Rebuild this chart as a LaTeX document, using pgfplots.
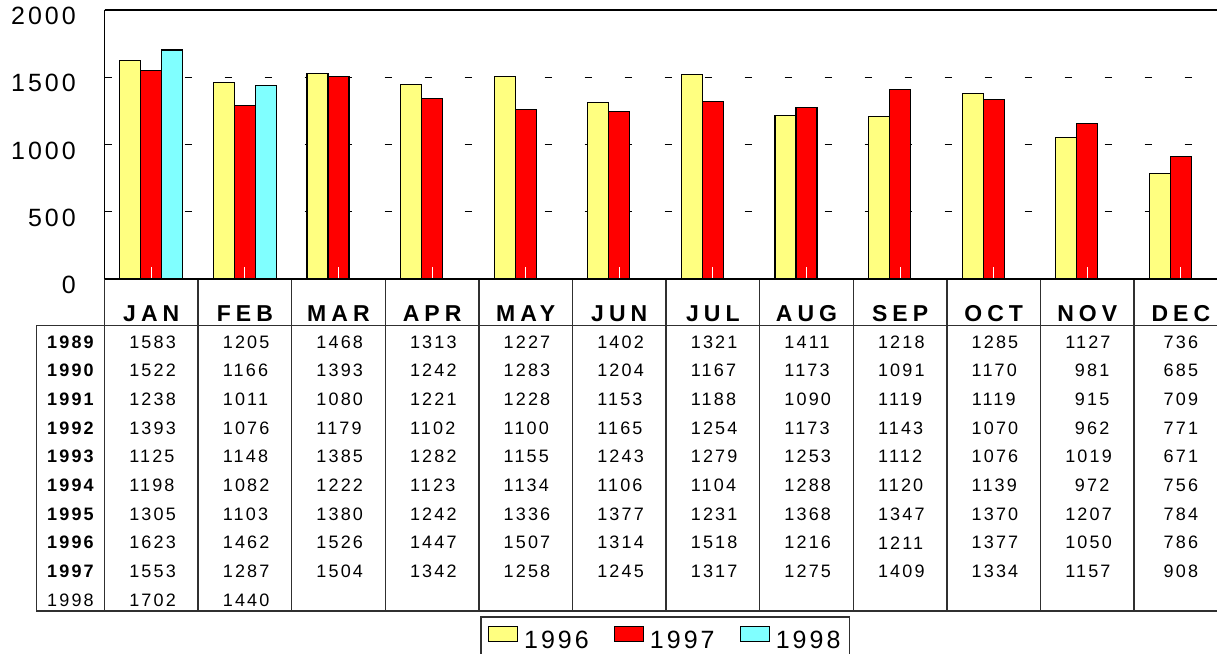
\documentclass[border=0pt]{standalone}
\usepackage{pgfplots}
\usepackage{pgfplotstable}
\pgfplotsset{compat=1.18}
\usepackage{fontspec}
\setmainfont{Liberation Sans}
\newfontfamily\lsfont[LetterSpace=12]{Liberation Sans}
\newfontfamily\mfont[LetterSpace=22]{Liberation Sans}
\definecolor{yel}{HTML}{FFFF80}
\definecolor{redb}{HTML}{FF0000}
\definecolor{cyanb}{HTML}{80FFFF}
\definecolor{tline}{HTML}{303030}
\pgfplotsset{
  layers/mylayers/.define layer set={
    axis background,axis grid,main,axis ticks,axis lines,axis tick labels,axis descriptions,axis foreground
  }{/pgfplots/layers/standard},
}
\pgfplotstableread{
year ypos JAN FEB MAR APR MAY JUN JUL AUG SEP OCT NOV DEC
1989 -468.4 1583 1205 1468 1313 1227 1402 1321 1411 1218 1285 1127 736
1990 -681.6 1522 1166 1393 1242 1283 1204 1167 1173 1091 1170 981 685
1991 -894.8 1238 1011 1080 1221 1228 1153 1188 1090 1119 1119 915 709
1992 -1108.0 1393 1076 1179 1102 1100 1165 1254 1173 1143 1070 962 771
1993 -1321.2 1125 1148 1385 1282 1155 1243 1279 1253 1112 1076 1019 671
1994 -1534.4 1198 1082 1222 1123 1134 1106 1104 1288 1120 1139 972 756
1995 -1747.6 1305 1103 1380 1242 1336 1377 1231 1368 1347 1370 1207 784
1996 -1960.8 1623 1462 1526 1447 1507 1314 1518 1216 1211 1377 1050 786
1997 -2174.0 1553 1287 1504 1342 1258 1245 1317 1275 1409 1334 1157 908
1998 -2387.2 1702 1440 0 0 0 0 0 0 0 0 0 0
}\tabledata
\newcommand{\numfont}{\lsfont\fontsize{18}{21}\selectfont}
\newcommand{\tabcol}[3]{%
  \addplot[forget plot, draw=none, mark=none, nodes near coords, point meta=explicit symbolic,
    nodes near coords style={font=\numfont, anchor=center, inner sep=0pt, #3}, #2]
    table[x expr=#1, y=ypos, meta=\tabcolname] {\tabledata};}
\begin{document}
\begin{tikzpicture}
\begin{axis}[
  set layers=mylayers,
  at={(104.5pt,374pt)}, anchor=south west,
  scale only axis, width=1112.5pt, height=269pt,
  xmin=-0.5, xmax=11.386, ymin=0, ymax=2000,
  clip=false,
  axis x line*=box, axis y line*=left,
  axis line style={black, line width=1.5pt},
  xtick={0,...,11},
  xticklabels={JAN,FEB,MAR,APR,MAY,JUN,JUL,AUG,SEP,OCT,NOV,DEC},
  xtick pos=left,
  xtick style={white, line width=1pt},
  major tick length=12pt,
  xticklabel style={anchor=center, inner sep=0pt, yshift=-35pt, font=\mfont\bfseries\fontsize{23}{28}\selectfont},
  ytick={0,500,1000,1500,2000},
  yticklabels={0,500,1000,1500,2000},
  ytick style={draw=none},
  yticklabel style={anchor=east, inner sep=0pt, xshift=-28.5pt, yshift=-6pt, font=\lsfont\fontsize{25}{30}\selectfont},
  ymajorgrids,
  grid style={black, line width=1.3pt, dash pattern=on 7pt off 33pt},
  legend image code/.code={\draw[#1] (0pt,-0.5pt) rectangle (29pt,14.5pt);},
  legend columns=3,
  legend style={at={(0.504,-1.2528)}, anchor=north, draw=tline, line width=1.5pt,
    font=\lsfont\fontsize{25}{30}\selectfont,
    /tikz/every even column/.append style={column sep=23pt},
    /tikz/every odd column/.append style={column sep=4pt},
    inner xsep=7pt, inner ysep=9pt},
]
\addplot[ybar, bar width=0.2245, bar shift=-0.2245, fill=yel, draw=black, line width=1.2pt]
  coordinates {(0,1623) (1,1462) (2,1526) (3,1447) (4,1507) (5,1314) (6,1518) (7,1216) (8,1211) (9,1377) (10,1050) (11,786)};
\addlegendentry{1996}
\addplot[ybar, bar width=0.2245, bar shift=0, fill=redb, draw=black, line width=1.2pt]
  coordinates {(0,1553) (1,1287) (2,1504) (3,1342) (4,1258) (5,1245) (6,1317) (7,1275) (8,1409) (9,1334) (10,1157) (11,908)};
\addlegendentry{1997}
\addplot[ybar, bar width=0.2245, bar shift=0.2245, fill=cyanb, draw=black, line width=1.2pt]
  coordinates {(0,1702) (1,1440)};
\addlegendentry{1998}

% table grid
\draw[tline, line width=1.3pt] (axis cs:-1.2233,-345.7) -- (axis cs:11.386,-345.7);
\draw[tline, line width=1.3pt] (axis cs:-1.2233,-345.7) -- (axis cs:-1.2233,-2468.4) -- (axis cs:11.386,-2468.4);
\pgfplotsinvokeforeach{-0.5,0.5,1.5,2.5,3.5,4.5,5.5,6.5,7.5,8.5,9.5,10.5}{
  \draw[tline, line width=1.3pt] (axis cs:#1,0) -- (axis cs:#1,-2468.4);
}

% table text
\def\tabcolname{year}
\tabcol{-0.8632}{skip coords between index={9}{10}}{font=\numfont\bfseries}
\tabcol{-0.8632}{skip coords between index={0}{9}}{}
\def\tabcolname{JAN}\tabcol{0}{}{text width=44pt, align=right}
\def\tabcolname{FEB}\tabcol{1}{}{text width=44pt, align=right}
\def\tabcolname{MAR}\tabcol{2}{skip coords between index={9}{10}}{text width=44pt, align=right}
\def\tabcolname{APR}\tabcol{3}{skip coords between index={9}{10}}{text width=44pt, align=right}
\def\tabcolname{MAY}\tabcol{4}{skip coords between index={9}{10}}{text width=44pt, align=right}
\def\tabcolname{JUN}\tabcol{5}{skip coords between index={9}{10}}{text width=44pt, align=right}
\def\tabcolname{JUL}\tabcol{6}{skip coords between index={9}{10}}{text width=44pt, align=right}
\def\tabcolname{AUG}\tabcol{7}{skip coords between index={9}{10}}{text width=44pt, align=right}
\def\tabcolname{SEP}\tabcol{8}{skip coords between index={9}{10}}{text width=44pt, align=right}
\def\tabcolname{OCT}\tabcol{9}{skip coords between index={9}{10}}{text width=44pt, align=right}
\def\tabcolname{NOV}\tabcol{10}{skip coords between index={9}{10}}{text width=44pt, align=right}
\def\tabcolname{DEC}\tabcol{11}{skip coords between index={9}{10}}{}
\end{axis}
\pgfresetboundingbox
\useasboundingbox (0pt,0pt) rectangle (1217pt,653pt);
\end{tikzpicture}
\end{document}
